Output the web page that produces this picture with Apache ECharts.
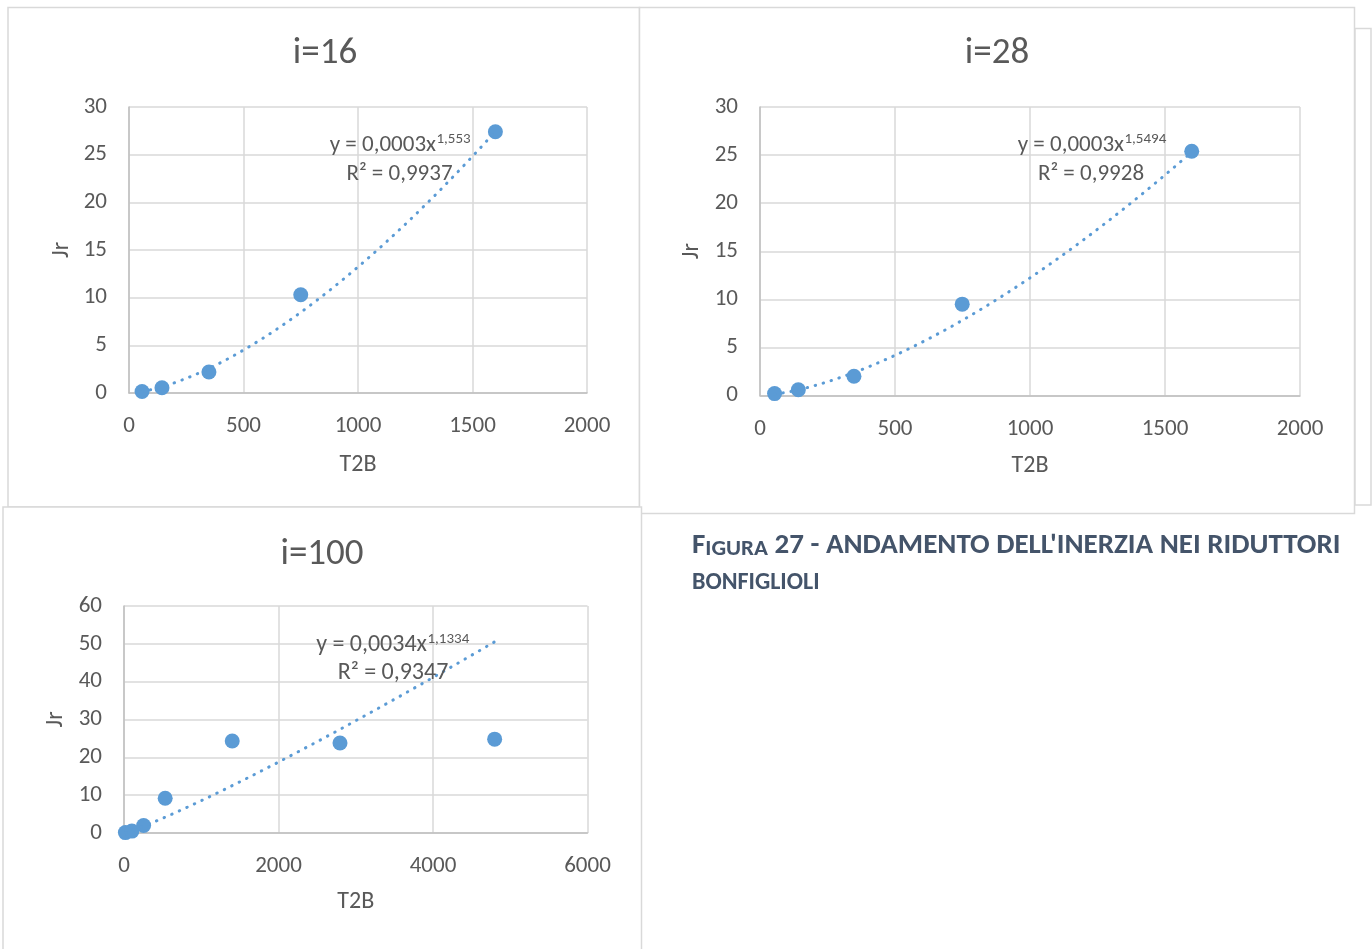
<!DOCTYPE html>
<html>
<head>
<meta charset="utf-8">
<script src="https://cdn.jsdelivr.net/npm/echarts@6/dist/echarts.min.js"></script>
<style>
  html, body { margin: 0; padding: 0; background: #ffffff; }
  #chart { width: 1372px; height: 949px; }
</style>
</head>
<body>
<div id="chart"></div>
<script>
// Measured points: rated torque T2B against reduced inertia Jr
const T2B_16 = [57, 144, 349, 750, 1600];
const JR_16 = [0.15, 0.55, 2.2, 10.3, 27.4];

const T2B_28 = [54, 142, 348, 749, 1599];
const JR_28 = [0.2, 0.6, 2.0, 9.5, 25.4];

const T2B_100 = [18, 102, 254, 533, 1401, 2796, 4798];
const JR_100 = [0.1, 0.5, 2.0, 9.2, 24.3, 23.8, 24.8];

// Power trendline y = a * x^b; the printed equations show a to 4 decimals
const TREND_A = [0.00029, 0.000275, 0.0034];
const TREND_B = [1.553, 1.5494, 1.1334];
const R2 = [0.9937, 0.9928, 0.9347];

const TITLES = ['i=16', 'i=28', 'i=100'];
const X_MAX = [2000, 2000, 6000];
const X_STEP = [500, 500, 2000];
const Y_MAX = [30, 30, 60];
const Y_STEP = [5, 5, 10];

const FONT = 'Carlito, Lato, sans-serif';
const TEXT_COLOR = '#595959';
const BLUE = '#5B9BD5';
const GRID_COLOR = '#D9D9D9';
const FRAME_COLOR = '#D9D9D9';
const CAPTION_COLOR = '#44546A';

const xs = [T2B_16, T2B_28, T2B_100];
const ys = [JR_16, JR_28, JR_100];

// Italian decimal comma
const itNum = (v, d) => v.toFixed(d).replace('.', ',');

// Plot-area boxes of the three panels
const grids = [
  { left: 129, top: 107, width: 458, height: 286 },
  { left: 760, top: 107, width: 540, height: 288.5 },
  { left: 124, top: 606, width: 463.5, height: 227 }
];

function trendPoints(i) {
  const x = xs[i];
  const lo = Math.min.apply(null, x), hi = Math.max.apply(null, x);
  const pts = [];
  const n = 120;
  for (let k = 0; k <= n; k++) {
    const t = lo + (hi - lo) * k / n;
    pts.push([t, TREND_A[i] * Math.pow(t, TREND_B[i])]);
  }
  return pts;
}

const nameGapX = [60, 58, 57];
const nameGapY = [55, 56, 56.5];

const xAxes = [], yAxes = [], series = [];
grids.forEach((g, i) => {
  xAxes.push({
    type: 'value', gridIndex: i, min: 0, max: X_MAX[i], interval: X_STEP[i],
    name: 'T2B', nameLocation: 'middle', nameGap: nameGapX[i],
    nameTextStyle: { color: TEXT_COLOR, fontSize: 24, fontFamily: FONT },
    axisLine: { show: true, lineStyle: { color: '#BFBFBF', width: 1.5 } },
    axisTick: { show: false },
    axisLabel: { color: TEXT_COLOR, fontSize: 23, fontFamily: FONT, margin: 22, formatter: v => String(v) },
    splitLine: { show: true, lineStyle: { color: GRID_COLOR, width: 1.5 } }
  });
  yAxes.push({
    type: 'value', gridIndex: i, min: 0, max: Y_MAX[i], interval: Y_STEP[i],
    name: 'Jr', nameLocation: 'middle', nameGap: nameGapY[i],
    nameTextStyle: { color: TEXT_COLOR, fontSize: 24, fontFamily: FONT },
    axisLine: { show: true, lineStyle: { color: '#BFBFBF', width: 1.5 } },
    axisTick: { show: false },
    axisLabel: { color: TEXT_COLOR, fontSize: 23, fontFamily: FONT, margin: 22, padding: [4, 0, 0, 0], formatter: v => String(v) },
    splitLine: { show: true, lineStyle: { color: GRID_COLOR, width: 1.5 } }
  });
  series.push({
    type: 'scatter', xAxisIndex: i, yAxisIndex: i,
    data: xs[i].map((v, k) => [v, ys[i][k]]),
    symbol: 'circle', symbolSize: 15,
    itemStyle: { color: BLUE, opacity: 1 },
    z: 2, silent: true
  });
  series.push({
    type: 'line', xAxisIndex: i, yAxisIndex: i,
    data: trendPoints(i), showSymbol: false, smooth: false,
    lineStyle: { color: BLUE, width: 3, type: [0.5, 7.8], cap: 'round' },
    z: 3, silent: true, animation: false
  });
});

// Panel frames
const frames = [
  { x: 8, y: 7.5, w: 631.5, h: 499.5 },
  { x: 639.5, y: 7.5, w: 715, h: 506 },
  { x: 1355, y: 28.5, w: 16, h: 476.5 },
  { x: 3, y: 507, w: 638.5, h: 460 }
];

// Title and equation label anchors, per panel
const titlePos = [[325, 54], [997, 54], [322, 555]];
const eqPos = [
  { xEnd: 436, y: 145.5, r2x: 399.5, r2y: 174, size: 23 },
  { xEnd: 1124, y: 145, r2x: 1091, r2y: 174.5, size: 23 },
  { xEnd: 427, y: 645, r2x: 393, r2y: 673, size: 24 }
];

const graphics = [];
frames.forEach(f => {
  graphics.push({
    type: 'rect', silent: true, z: -10,
    shape: { x: f.x, y: f.y, width: f.w, height: f.h },
    style: { fill: '#ffffff', stroke: FRAME_COLOR, lineWidth: 1.5 }
  });
});
titlePos.forEach((p, i) => {
  graphics.push({
    type: 'text', x: p[0], y: p[1], silent: true,
    style: { text: TITLES[i], fill: TEXT_COLOR, font: '37px ' + FONT, align: 'center', verticalAlign: 'middle' }
  });
});
eqPos.forEach((p, i) => {
  graphics.push({
    type: 'text', x: p.xEnd, y: p.y, silent: true, z: 20,
    style: { text: 'y = ' + itNum(TREND_A[i], 4) + 'x', fill: TEXT_COLOR, font: p.size + 'px ' + FONT, align: 'right', verticalAlign: 'middle' }
  });
  graphics.push({
    type: 'text', x: p.xEnd + 0.5, y: p.y - 6, silent: true, z: 20,
    style: { text: String(TREND_B[i]).replace('.', ','), fill: TEXT_COLOR, font: '15px ' + FONT, align: 'left', verticalAlign: 'middle' }
  });
  graphics.push({
    type: 'text', x: p.r2x, y: p.r2y, silent: true, z: 20,
    style: { text: 'R² = ' + itNum(R2[i], 4), fill: TEXT_COLOR, font: p.size + 'px ' + FONT, align: 'center', verticalAlign: 'middle' }
  });
});

// Figure caption
graphics.push({
  type: 'text', x: 692, y: 545, silent: true,
  style: {
    text: '{big|F}{small|IGURA}{big| 27 - ANDAMENTO DELL\'INERZIA NEI RIDUTTORI}',
    verticalAlign: 'middle', align: 'left',
    rich: {
      big: { fontFamily: FONT, fontWeight: 'bold', fontSize: 29, fill: CAPTION_COLOR, verticalAlign: 'bottom', lineHeight: 31 },
      small: { fontFamily: FONT, fontWeight: 'bold', fontSize: 23, fill: CAPTION_COLOR, verticalAlign: 'bottom', lineHeight: 31 }
    }
  }
});
graphics.push({
  type: 'text', x: 692, y: 583, silent: true,
  style: { text: 'BONFIGLIOLI', fill: CAPTION_COLOR, font: 'bold 24px ' + FONT, align: 'left', verticalAlign: 'middle' }
});

const chart = echarts.init(document.getElementById('chart'), null, { renderer: 'canvas' });
chart.setOption({
  backgroundColor: '#ffffff',
  animation: false,
  textStyle: { fontFamily: FONT },
  grid: grids.map(g => Object.assign({ containLabel: false }, g)),
  xAxis: xAxes,
  yAxis: yAxes,
  series: series,
  graphic: graphics
});
</script>
</body>
</html>
